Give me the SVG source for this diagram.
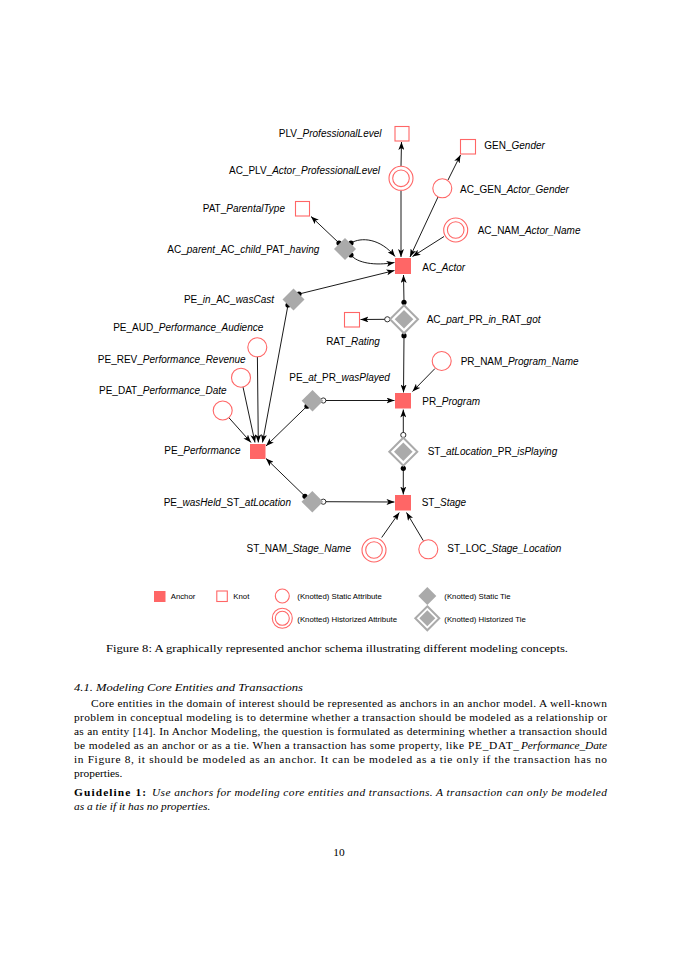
<svg xmlns="http://www.w3.org/2000/svg" width="678" height="960" viewBox="0 0 678 960">
<style>
.lbl{font-family:"Liberation Sans",Arial,sans-serif;font-size:10px;fill:#000}
.lbl .i{font-style:italic}
.leg{font-family:"Liberation Sans",Arial,sans-serif;font-size:7.8px;fill:#000}
.end{text-anchor:end}
.anchor{fill:#ff6666}
.knot{fill:#fff;stroke:#ff6666;stroke-width:1.1}
.attr{fill:#fff;stroke:#ff6666;stroke-width:1.1}
.tie{fill:#aaaaaa}
.htie{fill:#fff;stroke:#aaaaaa;stroke-width:2}
.edge{fill:none;stroke:#000;stroke-width:0.9}
.arr{marker-end:url(#arr)}
.dot{fill:#000}
.odot{fill:#fff;stroke:#000;stroke-width:0.8}
.body{font-family:"Liberation Serif","Times New Roman",serif;font-size:11.4px;fill:#000}
.it{font-style:italic}
.bf{font-weight:bold}
</style>
<defs>
<marker id="arr" viewBox="0 0 8 6" refX="8" refY="3" markerWidth="8" markerHeight="6" markerUnits="userSpaceOnUse" orient="auto">
<path d="M0,0 L8,3 L0,6 L2,3 z" fill="#000"/>
</marker>
</defs>
<rect width="678" height="960" fill="#fff"/>

<g id="connectors">
<path class="edge arr" d="M401,166 L401.5,142"/>
<path class="edge arr" d="M401,190.5 L401,257"/>
<path class="edge arr" d="M448,180 L460.5,155"/>
<path class="edge arr" d="M438,197 L410,257"/>
<path class="edge arr" d="M444,236.5 L412.5,256.5"/>
<path class="edge arr" d="M339,243 L311,216.5"/>
<path class="edge arr" d="M351,243 C361,237 380,238 395,256.5"/>
<path class="edge arr" d="M351,255 C357,263 375,266 394.5,262.5"/>
<path class="edge arr" d="M299,294 L394.5,270.5"/>
<path class="edge arr" d="M288,305 L262.5,442.5"/>
<path class="edge arr" d="M404,302.3 L403.5,275"/>
<path class="edge arr" d="M387.3,319.3 L360.5,319.5"/>
<path class="edge arr" d="M404,335.7 L403.5,392.5"/>
<path class="edge arr" d="M435,368.5 L412.5,391.5"/>
<path class="edge arr" d="M323.3,400.5 L394.5,400.5"/>
<path class="edge arr" d="M307,406.2 L266,446"/>
<path class="edge arr" d="M403.3,435 L403.3,409.5"/>
<path class="edge arr" d="M403.3,468.3 L403.3,494.5"/>
<path class="edge arr" d="M323.3,501.7 L394.5,502"/>
<path class="edge arr" d="M305,496.3 L266,458.5"/>
<path class="edge arr" d="M381.7,537.5 L399.3,512.5"/>
<path class="edge arr" d="M423.3,540.7 L406.5,512.5"/>
<path class="edge arr" d="M228.9,417.7 L251,442.5"/>
<path class="edge arr" d="M243,387 L255,442.5"/>
<path class="edge arr" d="M257.4,356.8 L258.3,442.5"/>
<circle class="dot" cx="339" cy="243" r="2.6"/>
<circle class="dot" cx="351" cy="243" r="2.6"/>
<circle class="dot" cx="351" cy="255" r="2.6"/>
<circle class="dot" cx="299" cy="294" r="2.6"/>
<circle class="dot" cx="288" cy="305" r="2.6"/>
<circle class="dot" cx="404" cy="302.3" r="2.6"/>
<circle class="dot" cx="404" cy="335.7" r="2.6"/>
<circle class="odot" cx="387.3" cy="319.3" r="2.6"/>
<circle class="dot" cx="307" cy="406.2" r="2.6"/>
<circle class="odot" cx="323.3" cy="400.5" r="2.6"/>
<circle class="odot" cx="403.3" cy="435" r="2.6"/>
<circle class="dot" cx="403.3" cy="468.3" r="2.6"/>
<circle class="dot" cx="305" cy="496.3" r="2.6"/>
<circle class="odot" cx="323.3" cy="501.7" r="2.6"/>
</g>

<g id="AC_Actor"><rect class="anchor" x="395" y="258" width="16" height="16"/>
<text class="lbl" x="422.3" y="271">AC_<tspan class="i">Actor</tspan></text></g>
<g id="PR_Program"><rect class="anchor" x="395" y="393" width="16" height="15.5"/>
<text class="lbl" x="422.3" y="405">PR_<tspan class="i">Program</tspan></text></g>
<g id="ST_Stage"><rect class="anchor" x="395" y="495" width="16" height="15.5"/>
<text class="lbl" x="421.7" y="506">ST_<tspan class="i">Stage</tspan></text></g>
<g id="PE_Performance"><rect class="anchor" x="250" y="444" width="15.5" height="15"/>
<text class="lbl end" x="240.5" y="454">PE_<tspan class="i">Performance</tspan></text></g>

<g id="PLV_ProfessionalLevel"><rect class="knot" x="395" y="126.5" width="14" height="14.5"/>
<text class="lbl end" x="381.5" y="137">PLV_<tspan class="i">ProfessionalLevel</tspan></text></g>
<g id="GEN_Gender"><rect class="knot" x="460.5" y="139.5" width="15" height="14.5"/>
<text class="lbl" x="484.3" y="149">GEN_<tspan class="i">Gender</tspan></text></g>
<g id="PAT_ParentalType"><rect class="knot" x="295.5" y="201.5" width="14" height="14.5"/>
<text class="lbl end" x="285" y="212">PAT_<tspan class="i">ParentalType</tspan></text></g>
<g id="RAT_Rating"><rect class="knot" x="344.5" y="312.5" width="15" height="14.5"/>
<text class="lbl" x="353" y="345" text-anchor="middle">RAT_<tspan class="i">Rating</tspan></text></g>

<g id="AC_GEN_Actor_Gender"><circle class="attr" cx="442.3" cy="188.3" r="9.5"/>
<text class="lbl" x="460" y="192.5">AC_GEN_<tspan class="i">Actor_Gender</tspan></text></g>
<g id="PR_NAM_Program_Name"><circle class="attr" cx="441.7" cy="361" r="9.5"/>
<text class="lbl" x="460.7" y="364.5">PR_NAM_<tspan class="i">Program_Name</tspan></text></g>
<g id="PE_AUD_Performance_Audience"><circle class="attr" cx="257.3" cy="347.3" r="9.5"/>
<text class="lbl end" x="263.3" y="331">PE_AUD_<tspan class="i">Performance_Audience</tspan></text></g>
<g id="PE_REV_Performance_Revenue"><circle class="attr" cx="241" cy="377.7" r="9.5"/>
<text class="lbl end" x="245.7" y="362.5">PE_REV_<tspan class="i">Performance_Revenue</tspan></text></g>
<g id="PE_DAT_Performance_Date"><circle class="attr" cx="222.7" cy="410.5" r="9.5"/>
<text class="lbl end" x="226.7" y="394">PE_DAT_<tspan class="i">Performance_Date</tspan></text></g>
<g id="ST_LOC_Stage_Location"><circle class="attr" cx="428.3" cy="549.3" r="9.5"/>
<text class="lbl" x="447.3" y="552">ST_LOC_<tspan class="i">Stage_Location</tspan></text></g>

<g id="AC_PLV_Actor_ProfessionalLevel"><circle class="attr" cx="401" cy="178.3" r="12"/><circle class="attr" cx="401" cy="178.3" r="8.3"/>
<text class="lbl end" x="380" y="174">AC_PLV_<tspan class="i">Actor_ProfessionalLevel</tspan></text></g>
<g id="AC_NAM_Actor_Name"><circle class="attr" cx="455.7" cy="230" r="12"/><circle class="attr" cx="455.7" cy="230" r="8.3"/>
<text class="lbl" x="477.7" y="234">AC_NAM_<tspan class="i">Actor_Name</tspan></text></g>
<g id="ST_NAM_Stage_Name"><circle class="attr" cx="374" cy="550" r="12"/><circle class="attr" cx="374" cy="550" r="8.3"/>
<text class="lbl end" x="351" y="552">ST_NAM_<tspan class="i">Stage_Name</tspan></text></g>

<g id="AC_parent_AC_child_PAT_having"><path class="tie" d="M345,238 L356,249 L345,260 L334,249 z"/>
<text class="lbl end" x="319.3" y="253">AC_<tspan class="i">parent</tspan>_AC_<tspan class="i">child</tspan>_PAT_<tspan class="i">having</tspan></text></g>
<g id="PE_in_AC_wasCast"><path class="tie" d="M293.5,288.5 L304.5,299.5 L293.5,310.5 L282.5,299.5 z"/>
<text class="lbl end" x="274" y="303">PE_<tspan class="i">in</tspan>_AC_<tspan class="i">wasCast</tspan></text></g>
<g id="PE_at_PR_wasPlayed"><path class="tie" d="M312.5,390 L323.3,400.8 L312.5,411.6 L301.7,400.8 z"/>
<text class="lbl" x="289.3" y="380.5">PE_<tspan class="i">at</tspan>_PR_<tspan class="i">wasPlayed</tspan></text></g>
<g id="PE_wasHeld_ST_atLocation"><path class="tie" d="M312.3,490.9 L323.1,501.7 L312.3,512.5 L301.5,501.7 z"/>
<text class="lbl end" x="291" y="506">PE_<tspan class="i">wasHeld</tspan>_ST_<tspan class="i">atLocation</tspan></text></g>

<g id="AC_part_PR_in_RAT_got"><path class="htie" d="M404,305.3 L418,319.3 L404,333.3 L390,319.3 z"/><path class="tie" d="M404,310 L413.3,319.3 L404,328.6 L394.7,319.3 z"/>
<text class="lbl" x="426.7" y="323">AC_<tspan class="i">part</tspan>_PR_<tspan class="i">in</tspan>_RAT_<tspan class="i">got</tspan></text></g>
<g id="ST_atLocation_PR_isPlaying"><path class="htie" d="M403.3,437.7 L417.3,451.7 L403.3,465.7 L389.3,451.7 z"/><path class="tie" d="M403.3,442.4 L412.6,451.7 L403.3,461 L394,451.7 z"/>
<text class="lbl" x="427.7" y="454.5">ST_<tspan class="i">atLocation</tspan>_PR_<tspan class="i">isPlaying</tspan></text></g>

<g id="legend">
<rect class="anchor" x="154" y="591" width="11.5" height="11"/>
<text class="leg" x="170.7" y="599">Anchor</text>
<rect class="knot" x="216.8" y="591" width="10.5" height="10.5"/>
<text class="leg" x="233.3" y="599">Knot</text>
<circle class="attr" cx="282.3" cy="596" r="7"/>
<text class="leg" x="297.3" y="599">(Knotted) Static Attribute</text>
<circle class="attr" cx="282.3" cy="618.3" r="10"/><circle class="attr" cx="282.3" cy="618.3" r="7"/>
<text class="leg" x="297.3" y="621.5">(Knotted) Historized Attribute</text>
<path class="tie" d="M427.3,587 L436.3,596 L427.3,605 L418.3,596 z"/>
<text class="leg" x="444.3" y="599">(Knotted) Static Tie</text>
<path class="htie" d="M427.3,606.3 L439.3,618.3 L427.3,630.3 L415.3,618.3 z"/><path class="tie" d="M427.3,610.3 L435.3,618.3 L427.3,626.3 L419.3,618.3 z"/>
<text class="leg" x="444.3" y="621.5">(Knotted) Historized Tie</text>
</g>

<g id="text">
<text class="body" x="106" y="652" textLength="462" lengthAdjust="spacingAndGlyphs">Figure 8: A graphically represented anchor schema illustrating different modeling concepts.</text>
<text class="body it" x="74" y="691" textLength="229" lengthAdjust="spacingAndGlyphs">4.1. Modeling Core Entities and Transactions</text>
<text class="body" x="91" y="707" textLength="516" lengthAdjust="spacing">Core entities in the domain of interest should be represented as anchors in an anchor model. A well-known</text>
<text class="body" x="74" y="721" textLength="533" lengthAdjust="spacing">problem in conceptual modeling is to determine whether a transaction should be modeled as a relationship or</text>
<text class="body" x="74" y="735" textLength="533" lengthAdjust="spacing">as an entity [14]. In Anchor Modeling, the question is formulated as determining whether a transaction should</text>
<text class="body" x="74" y="749" textLength="390" lengthAdjust="spacing">be modeled as an anchor or as a tie. When a transaction has some property, like</text>
<text class="body" x="468" y="749" textLength="51" lengthAdjust="spacing">PE_DAT_</text>
<text class="body it" x="521" y="749" textLength="86" lengthAdjust="spacing">Performance_Date</text>
<text class="body" x="74" y="763" textLength="533" lengthAdjust="spacing">in Figure 8, it should be modeled as an anchor. It can be modeled as a tie only if the transaction has no</text>
<text class="body" x="74" y="777">properties.</text>
<text class="body bf" x="74" y="796" textLength="72" lengthAdjust="spacing">Guideline 1:</text>
<text class="body it" x="152" y="796" textLength="455" lengthAdjust="spacing">Use anchors for modeling core entities and transactions. A transaction can only be modeled</text>
<text class="body it" x="74" y="810">as a tie if it has no properties.</text>
<text class="body" x="339" y="856" text-anchor="middle">10</text>
</g>
</svg>
